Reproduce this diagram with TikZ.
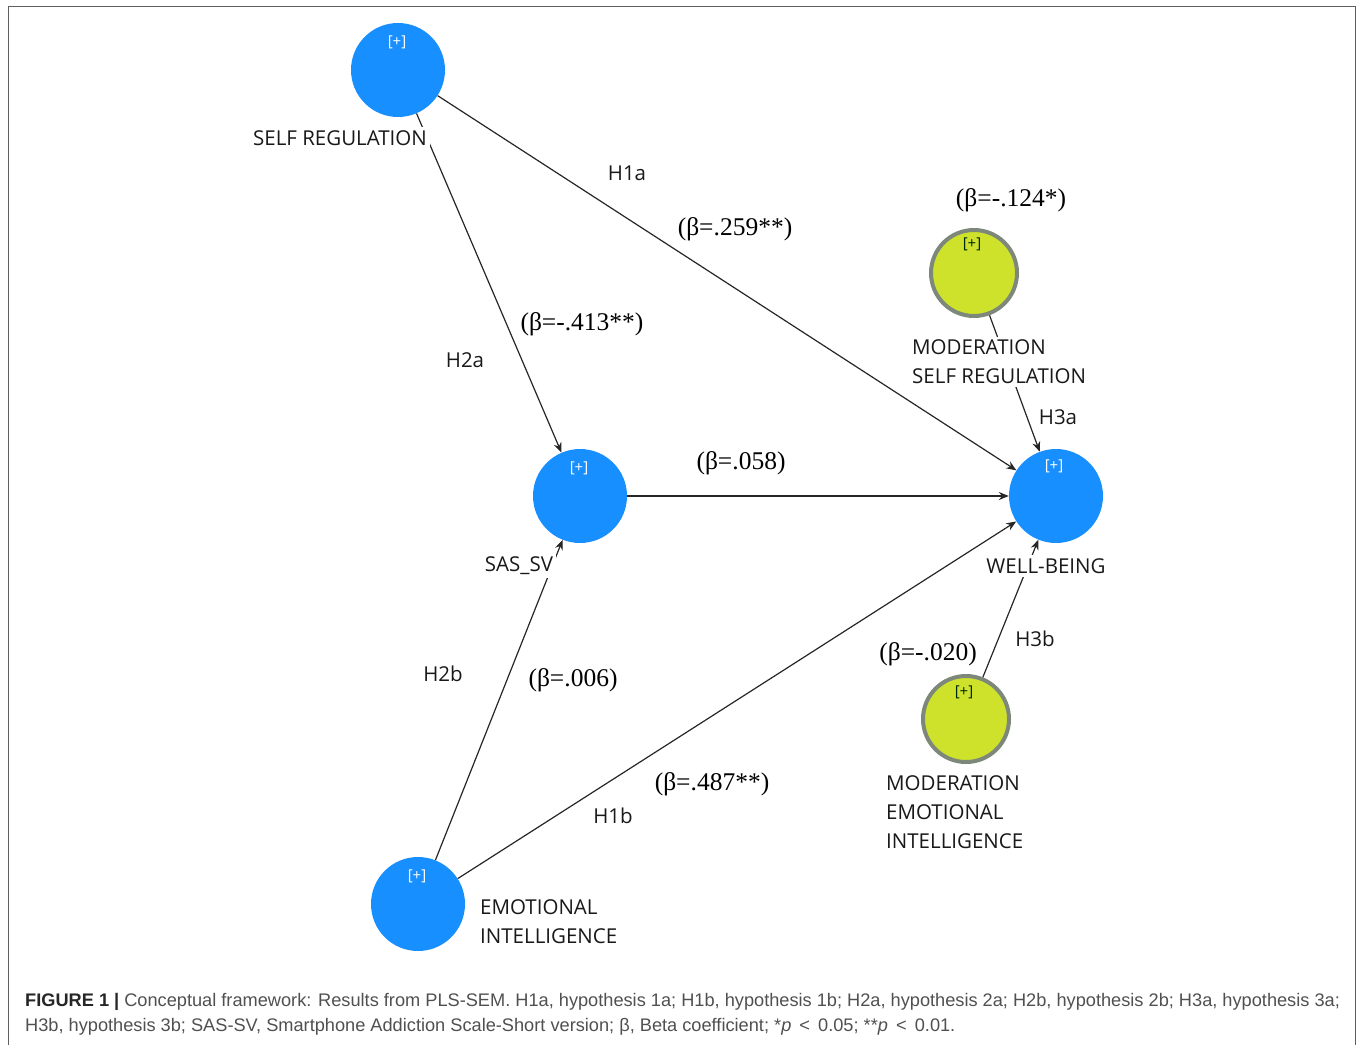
\documentclass[tikz,border=0pt]{standalone}
\usepackage{fontspec}
\setmainfont{Open Sans}
\newfontfamily\betafont{Liberation Serif}
\newfontfamily\capfont{Liberation Sans}
\usetikzlibrary{arrows.meta}
\definecolor{plsblue}{RGB}{24,143,255}
\definecolor{plsyellow}{RGB}{206,226,44}
\definecolor{plsring}{RGB}{125,135,122}
\definecolor{capgray}{RGB}{80,80,80}
\definecolor{framegray}{RGB}{95,95,95}
\begin{document}
\begin{tikzpicture}[x=1pt,y=-1pt,
  bluec/.style={circle,fill=plsblue,minimum size=94pt,inner sep=0pt},
  yelc/.style={circle,fill=plsyellow,draw=plsring,line width=4pt,minimum size=86pt,inner sep=0pt},
  plusw/.style={font=\fontsize{15}{17}\selectfont,text=white,inner sep=0pt},
  plusd/.style={font=\fontsize{15}{17}\selectfont,text=black!75!green!60!black,inner sep=0pt},
  lab/.style={font=\fontsize{20.5}{29}\selectfont,fill=white,inner sep=3pt,align=left,text=black!90},
  hlab/.style={font=\fontsize{20.5}{24}\selectfont,inner sep=1pt,text=black!90},
  beta/.style={font=\betafont\fontsize{25.5}{30}\selectfont,inner sep=1pt},
  arr/.style={-{Stealth[length=10pt,width=8pt]},line width=1.2pt,black!85},
]
\useasboundingbox (0,0) rectangle (1357,1045);
\draw[framegray,line width=1.5pt] (8.5,1045) -- (8.5,6.5) -- (1355.5,6.5) -- (1355.5,1045);

% constructs
\node[bluec] (sr) at (398,70) {};
\node[bluec] (sas) at (580,496) {};
\node[bluec] (wb) at (1056,496) {};
\node[bluec] (ei) at (418,904) {};
\node[yelc] (msr) at (974,273) {};
\node[yelc] (mei) at (966,719) {};

% connectors
\draw[arr] (sr) -- (wb);
\draw[arr] (sr) -- (sas);
\draw[arr] (sas) -- (wb);
\draw[arr] (ei) -- (sas);
\draw[arr] (ei) -- (wb);
\draw[arr] (msr) -- (wb);
\draw[arr] (mei) -- (wb);

% [+] marks
\node[plusw] (srp) at (397,42) {[+]};
\node[plusw] (sasp) at (579,468) {[+]};
\node[plusw] (wbp) at (1054,466) {[+]};
\node[plusw] (eip) at (417,876) {[+]};
\node[plusd] (msrp) at (972,244) {[+]};
\node[plusd] (meip) at (964,692) {[+]};

% construct labels
\node[lab] (srl) at (340,138) {SELF REGULATION};
\node[lab] (sasl) at (519,566) {SAS\_SV};
\node[lab] (wbl) at (1046,566) {WELL-BEING};
\node[lab,anchor=west] (eil) at (477,922) {EMOTIONAL\\INTELLIGENCE};
\node[lab,anchor=west] (msrl) at (909,362) {MODERATION\\SELF REGULATION};
\node[lab,anchor=west] (meil) at (883,812) {MODERATION\\EMOTIONAL\\INTELLIGENCE};

% hypothesis labels
\node[hlab] (h1a) at (627,173) {H1a};
\node[hlab] (h2a) at (465,360) {H2a};
\node[hlab] (h3a) at (1058,417) {H3a};
\node[hlab] (h2b) at (443,674) {H2b};
\node[hlab] (h1b) at (613,816) {H1b};
\node[hlab] (h3b) at (1035,639) {H3b};

% coefficients
\node[beta] (b1) at (735,229) {(β=.259**)};
\node[beta] (b2) at (582,324) {(β=-.413**)};
\node[beta] (b3) at (1011,200) {(β=-.124*)};
\node[beta] (b4) at (741,463) {(β=.058)};
\node[beta] (b5) at (573,680) {(β=.006)};
\node[beta] (b6) at (712,784) {(β=.487**)};
\node[beta] (b7) at (928,654) {(β=-.020)};

% caption
\node[anchor=base west,inner sep=0pt,font=\capfont\fontsize{18.2}{22}\selectfont,text=capgray] (cap1) at (25,1006)
  {{\bfseries\color{black!85}FIGURE 1 |} Conceptual framework: Results from PLS-SEM. H1a, hypothesis 1a; H1b, hypothesis 1b; H2a, hypothesis 2a; H2b, hypothesis 2b; H3a, hypothesis 3a;};
\node[anchor=base west,inner sep=0pt,font=\capfont\fontsize{18.2}{22}\selectfont,text=capgray] (cap2) at (25,1031)
  {H3b, hypothesis 3b; SAS-SV, Smartphone Addiction Scale-Short version; β, Beta coefficient; *\textit{p} \,<\, 0.05; **\textit{p} \,<\, 0.01.};
\end{tikzpicture}
\end{document}
